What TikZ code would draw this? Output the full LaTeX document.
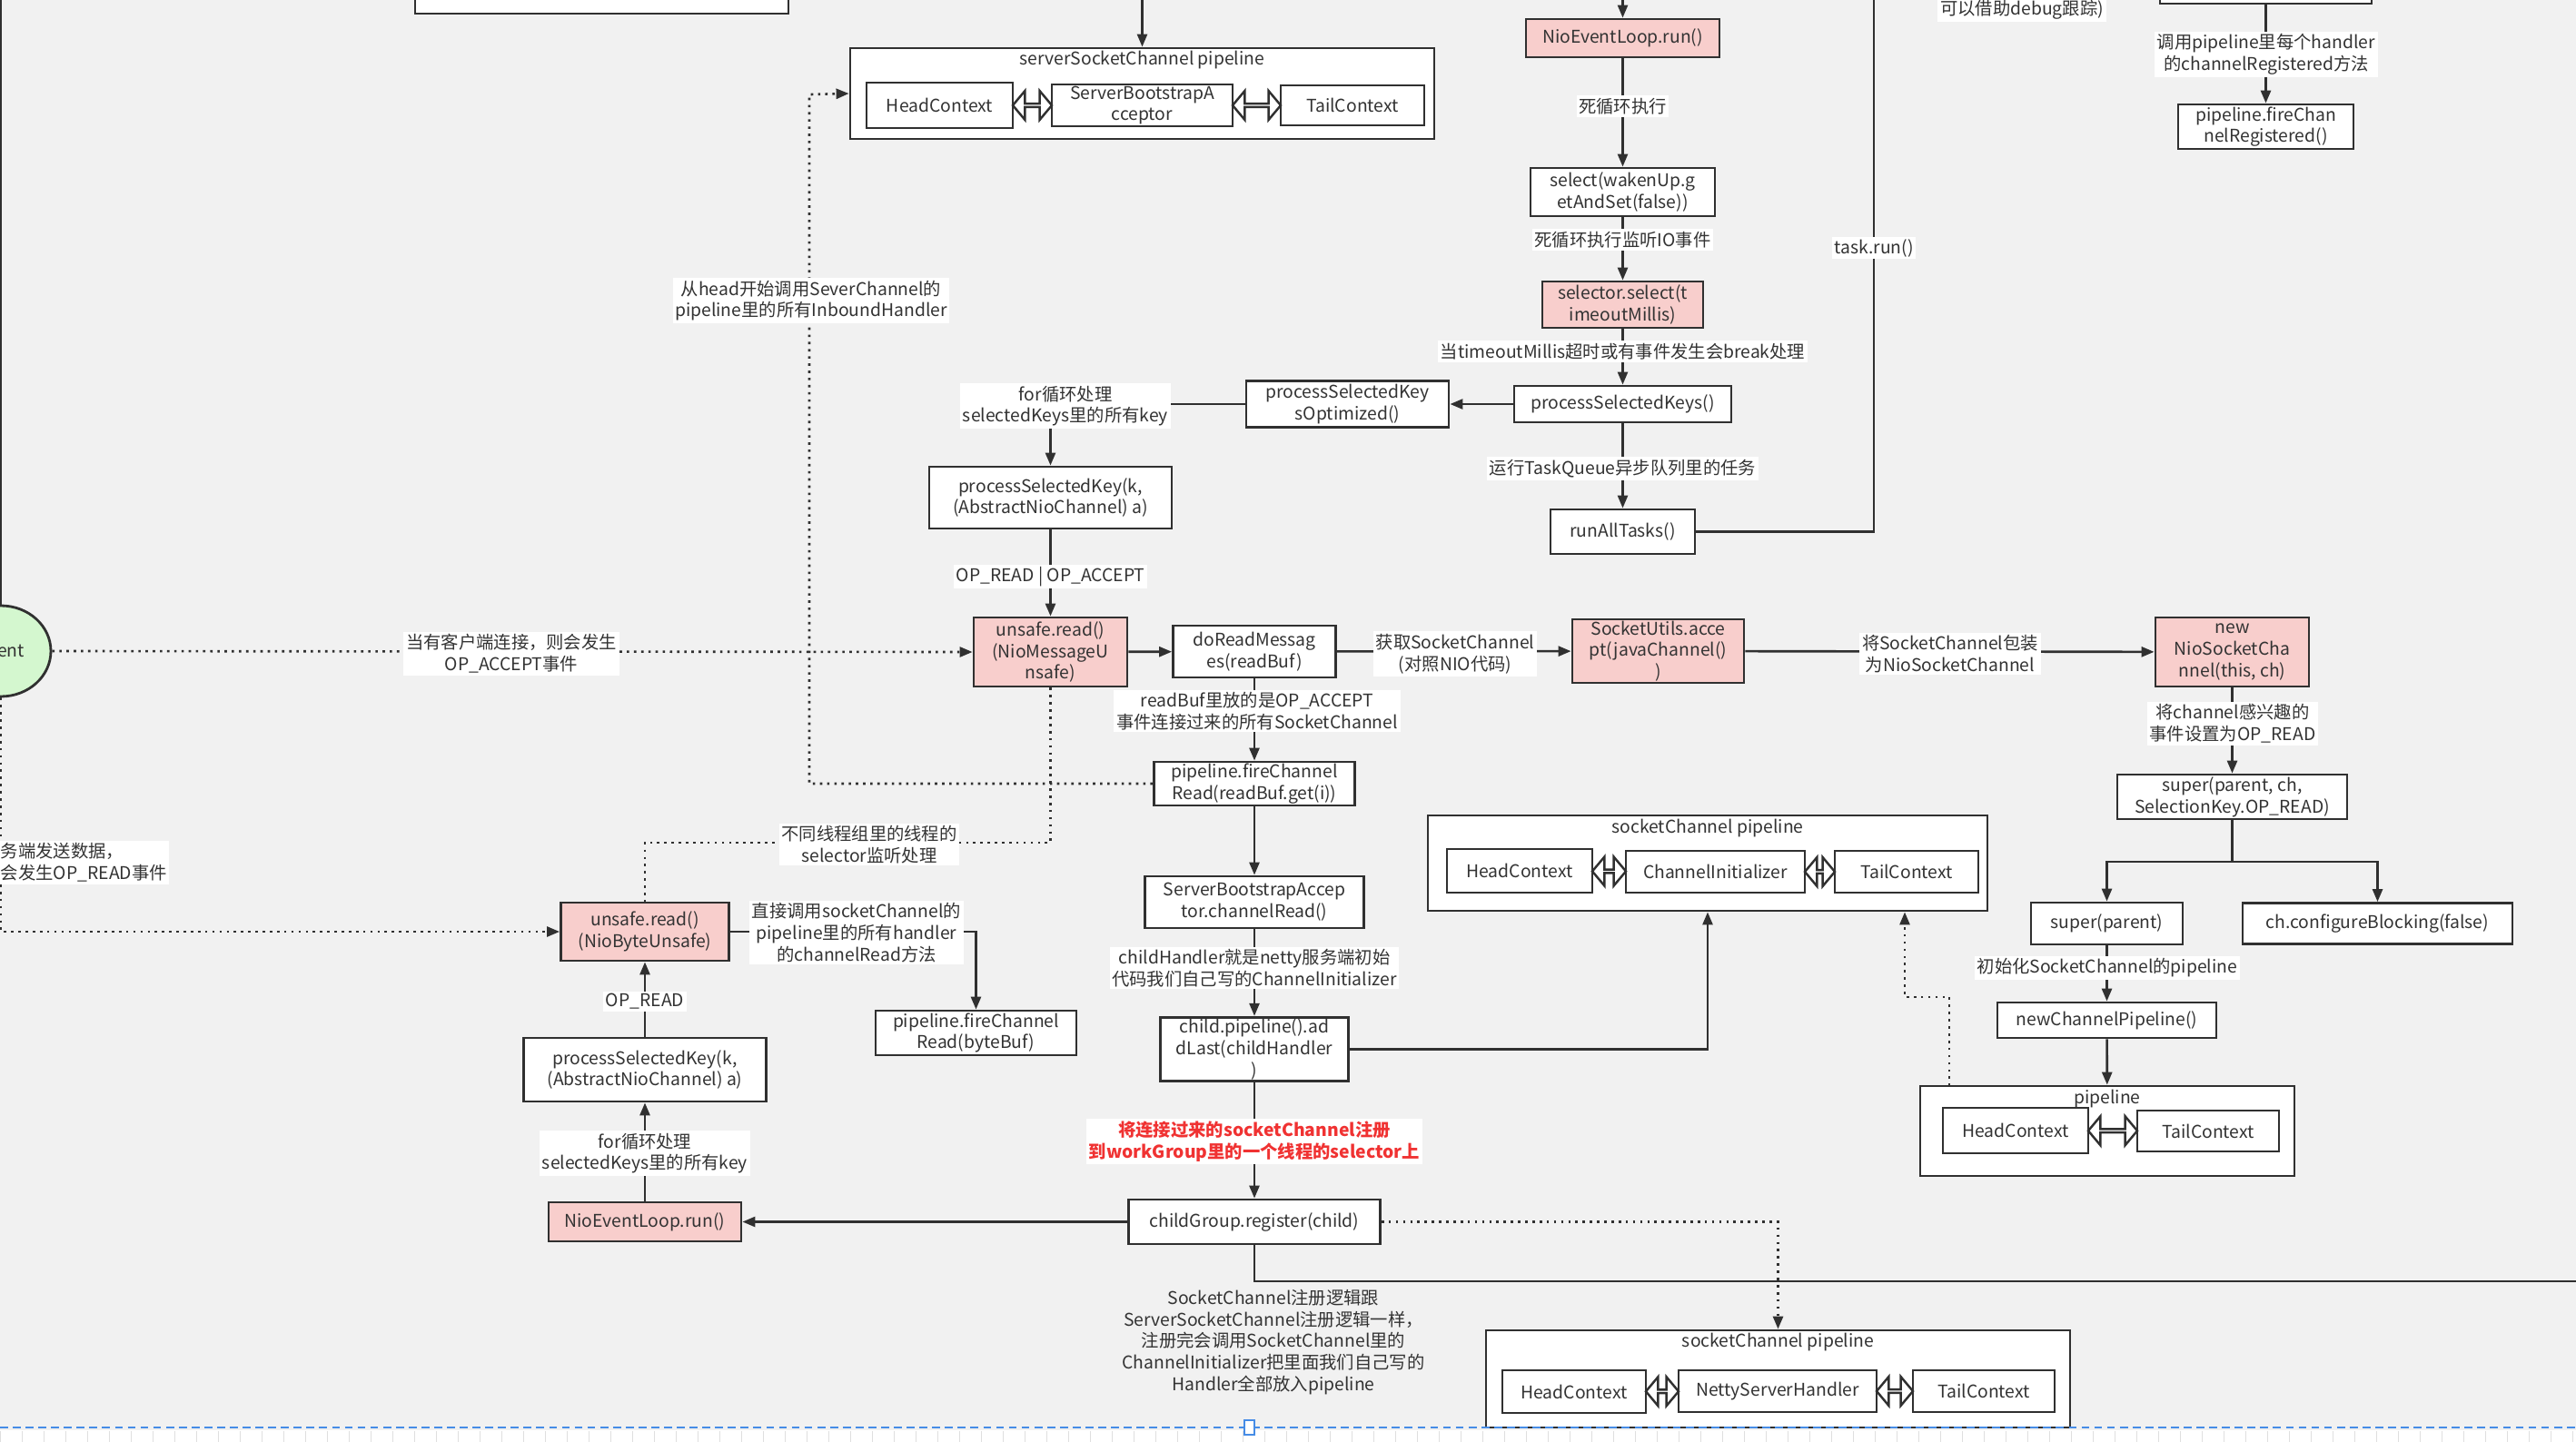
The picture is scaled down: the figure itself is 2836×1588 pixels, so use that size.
\documentclass[tikz,border=0pt]{standalone}
\usepackage{fontspec}
\setmainfont{Noto Sans CJK SC}
\usetikzlibrary{arrows.meta, positioning, shapes.geometric, shapes.arrows}

\definecolor{canvasgray}{RGB}{241,241,241}
\definecolor{edgedark}{RGB}{48,48,48}
\definecolor{txtgray}{RGB}{51,51,51}
\definecolor{callpink}{RGB}{248,206,204}
\definecolor{clientgreen}{RGB}{212,247,207}
\definecolor{notered}{RGB}{240,50,50}
\definecolor{pageblue}{RGB}{70,140,230}

\tikzset{
  every node/.style={font=\fontsize{11}{13.5}\selectfont, text=txtgray},
  box/.style={draw=edgedark, fill=white, line width=1.6pt, align=center, inner sep=1pt},
  hot/.style={box, fill=callpink},
  frame/.style={draw=edgedark, fill=white, line width=1.6pt, inner sep=0pt},
  lbl/.style={fill=white, inner sep=1.5pt, align=center},
  flow/.style={draw=edgedark, line width=1.5pt, -{Triangle[length=2.8mm,width=2.2mm]}},
  wire/.style={draw=edgedark, line width=1.5pt},
  dots/.style={draw=edgedark, line width=1.5pt, dash pattern=on 1.5pt off 3pt},
  dotflow/.style={dots, -{Triangle[length=2.8mm,width=2.2mm]}},
  dblarr/.style={double arrow, draw=edgedark, fill=white, line width=1.4pt, inner sep=0pt,
    minimum width=6.4mm, double arrow head extend=1.8mm, double arrow tip angle=100},
}

\begin{document}
\begin{tikzpicture}[x=0.2mm, y=-0.2mm]
  \useasboundingbox (0,0) rectangle (2836,1588);
  \fill[canvasgray] (0,0) rectangle (2836,1588);

  % clipped boxes at the top edge
  \node[box, minimum width=82.2mm, minimum height=11mm] (upl) at (662.5,-12.5) {};
  \node[box, minimum width=46.6mm, minimum height=9.6mm] (upr) at (2494.5,-20) {};

  % serverSocketChannel pipeline
  \node[frame, minimum width=128.6mm, minimum height=20mm] (sscp) at (1257.5,103) {};
  \node (sscpT) at (1257.5,66) {serverSocketChannel pipeline};
  \node[box, minimum width=32.2mm, minimum height=10mm] (hc1) at (1034.5,116) {HeadContext};
  \node[box, minimum width=39.8mm, minimum height=8.8mm] (sba) at (1257.5,116) {ServerBootstrapA\\cceptor};
  \node[box, minimum width=31.6mm, minimum height=8.8mm] (tc1) at (1489,116) {TailContext};
  \path (hc1.east) -- node[dblarr, minimum height=8.6mm] (da1) {} (sba.west);
  \path (sba.east) -- node[dblarr, minimum height=10.6mm] (da2) {} (tc1.west);

  % event loop column
  \node[hot, minimum width=42.6mm, minimum height=8.4mm] (nel1) at (1786.5,42) {NioEventLoop.run()};
  \node[box, minimum width=40.6mm, minimum height=10.6mm] (sel1) at (1786.5,211.5) {select(wakenUp.g\\etAndSet(false))};
  \node[hot, minimum width=35.4mm, minimum height=10.2mm] (sel2) at (1786.5,335.5) {selector.select(t\\imeoutMillis)};
  \node[box, minimum width=47.8mm, minimum height=8mm] (psks) at (1786.5,445) {processSelectedKeys()};
  \node[box, minimum width=44.6mm, minimum height=10.2mm] (psko) at (1483.5,445) {processSelectedKey\\sOptimized()};
  \node[box, minimum width=53.4mm, minimum height=13.6mm] (psk1) at (1156.5,548) {processSelectedKey(k,\\(AbstractNioChannel) a)};
  \node[box, minimum width=31.8mm, minimum height=9.8mm] (rat) at (1786.5,585.5) {runAllTasks()};
  \node[box, minimum width=38.6mm, minimum height=9.8mm] (fcr) at (2494.5,139.5) {pipeline.fireChan\\nelRegistered()};

  % client
  \node[ellipse, draw=edgedark, fill=clientgreen, line width=1.6pt, inner sep=0pt,
    minimum width=22mm, minimum height=20mm] (client) at (1,717) {};
  \node (clientT) at (12,717) {ent};

  % accept chain
  \node[hot, minimum width=33.8mm, minimum height=15.2mm] (nmu) at (1156.5,718) {unsafe.read()\\(NioMessageU\\nsafe)};
  \node[box, minimum width=35.8mm, minimum height=11.4mm] (drm) at (1381,717.5) {doReadMessag\\es(readBuf)};
  \node[hot, minimum width=37.8mm, minimum height=12mm] (sua) at (1825.5,717) {SocketUtils.acce\\pt(javaChannel()\\)};
  \node[hot, minimum width=33.8mm, minimum height=15.2mm] (nsc) at (2457.5,718) {new\\NioSocketCha\\nnel(this, ch)};
  \node[box, minimum width=44.2mm, minimum height=9.6mm] (fcr2) at (1381,863) {pipeline.fireChannel\\Read(readBuf.get(i))};
  \node[box, minimum width=48.2mm, minimum height=11.4mm] (sbacr) at (1381,993.5) {ServerBootstrapAccep\\tor.channelRead()};
  \node[box, minimum width=41.4mm, minimum height=12.6mm] (cpadd) at (1381,1155.5) {child.pipeline().ad\\dLast(childHandler\\)};
  \node[box, minimum width=55.4mm, minimum height=9.8mm] (cgr) at (1381,1345.5) {childGroup.register(child)};

  % read chain
  \node[hot, minimum width=37mm, minimum height=12.8mm] (nbu) at (710,1026) {unsafe.read()\\(NioByteUnsafe)};
  \node[box, minimum width=53.4mm, minimum height=14mm] (psk2) at (710,1178) {processSelectedKey(k,\\(AbstractNioChannel) a)};
  \node[hot, minimum width=42.4mm, minimum height=8.6mm] (nel2) at (710,1345.5) {NioEventLoop.run()};
  \node[box, minimum width=44.2mm, minimum height=9.8mm] (fcrb) at (1074.5,1137.5) {pipeline.fireChannel\\Read(byteBuf)};

  % socketChannel pipeline (middle)
  \node[frame, minimum width=123.2mm, minimum height=21mm] (scp1) at (1880,950.5) {};
  \node (scp1T) at (1880,912) {socketChannel pipeline};
  \node[box, minimum width=32mm, minimum height=9.6mm] (hc2) at (1673,959) {HeadContext};
  \node[box, minimum width=39.4mm, minimum height=9.2mm] (ci) at (1888.5,960) {ChannelInitializer};
  \node[box, minimum width=31.6mm, minimum height=9.2mm] (tc2) at (2099,960) {TailContext};
  \path (hc2.east) -- node[dblarr, minimum height=7.4mm] (da3) {} (ci.west);
  \path (ci.east) -- node[dblarr, minimum height=6.6mm] (da4) {} (tc2.west);

  % NioSocketChannel construction
  \node[box, minimum width=50.6mm, minimum height=9.8mm] (spc) at (2457.5,877.5) {super(parent, ch,\\SelectionKey.OP\_READ)};
  \node[box, minimum width=33.4mm, minimum height=9.2mm] (sp) at (2319.5,1017) {super(parent)};
  \node[box, minimum width=59.4mm, minimum height=9mm] (cb) at (2617.5,1017) {ch.configureBlocking(false)};
  \node[box, minimum width=48.2mm, minimum height=7.8mm] (ncp) at (2319.5,1123.5) {newChannelPipeline()};
  \node[frame, minimum width=82.4mm, minimum height=19.8mm] (pl) at (2320,1245.5) {};
  \node (plT) at (2320,1210) {pipeline};
  \node[box, minimum width=32mm, minimum height=10mm] (hc3) at (2219,1245) {HeadContext};
  \node[box, minimum width=31.2mm, minimum height=9mm] (tc3) at (2431,1245.5) {TailContext};
  \path (hc3.east) -- node[dblarr, minimum height=10.8mm] (da5) {} (tc3.west);

  % socketChannel pipeline (bottom)
  \node[frame, minimum width=128.6mm, minimum height=21.4mm] (scp2) at (1957.5,1518.5) {};
  \node (scp2T) at (1957.5,1478) {socketChannel pipeline};
  \node[box, minimum width=31.6mm, minimum height=9.4mm] (hc4) at (1733,1532.5) {HeadContext};
  \node[box, minimum width=43.6mm, minimum height=9.2mm] (nsh) at (1957,1532) {NettyServerHandler};
  \node[box, minimum width=31.2mm, minimum height=9.2mm] (tc4) at (2184,1532) {TailContext};
  \path (hc4.east) -- node[dblarr, minimum height=7.2mm] (da6) {} (nsh.west);
  \path (nsh.east) -- node[dblarr, minimum height=8mm] (da7) {} (tc4.west);

  % free ends
  \coordinate (inA) at (1257.5,-10);
  \coordinate (inB) at (1786.5,-10);
  \coordinate (inC) at (1,-10);
  \coordinate (loopTop) at (2063,-10);
  \coordinate (backUp) at (891,104);
  \coordinate (xThread) at (1156.5,928);
  \coordinate (offR) at (2850,1411);
  \coordinate (fork) at (2457.5,949);
  \coordinate (plTap) at (2146,1196);
  \coordinate (plBend) at (2097,1098);

  % connectors
  \draw[flow] (inA) -- (sscp.north);
  \draw[flow] (inB) -- (nel1);
  \draw[flow] (nel1) -- (sel1);
  \draw[flow] (sel1) -- (sel2);
  \draw[flow] (sel2) -- (psks);
  \draw[flow] (psks) -- (rat);
  \draw[flow] (psks) -- (psko);
  \draw[flow] (psko.west) -| (psk1.north);
  \draw[flow] (psk1) -- (nmu);
  \draw[wire] (rat.east) -| (loopTop);
  \draw[flow] (upr) -- (fcr);
  \draw[wire] (inC) -- (client.north);
  \draw[dotflow] (client.east) -- (nmu.west);
  \draw[dotflow] (client.south) |- (nbu.west);
  \draw[flow] (nmu) -- (drm);
  \draw[flow] (drm) -- (sua);
  \draw[flow] (sua) -- (nsc);
  \draw[flow] (drm) -- (fcr2);
  \draw[dotflow] (fcr2.west) -| (backUp) -- (sscp.west);
  \draw[dots] (nmu.south) -- (xThread) -| (nbu.north);
  \draw[flow] (fcr2) -- (sbacr);
  \draw[flow] (sbacr) -- (cpadd);
  \draw[flow] (cpadd.east) -| (scp1.south);
  \draw[flow] (cpadd) -- (cgr);
  \draw[flow] (cgr) -- (nel2);
  \draw[dotflow] (cgr.east) -| (scp2.north);
  \draw[wire] (cgr.south) |- (offR);
  \draw[flow] (nel2) -- (psk2);
  \draw[flow] (psk2) -- (nbu);
  \draw[flow] (nbu.east) -| (fcrb.north);
  \draw[flow] (nsc) -- (spc);
  \draw[wire] (spc.south) -- (fork);
  \draw[flow] (fork) -| (sp.north);
  \draw[flow] (fork) -| (cb.north);
  \draw[flow] (sp) -- (ncp);
  \draw[flow] (ncp) -- (pl);
  \draw[dotflow] (plTap) |- (plBend) -- (plBend |- scp1.south);

  % connector labels
  \node[lbl] (l1) at (1786.5,117) {死循环执行};
  \node[lbl] (l2) at (1786.5,264) {死循环执行监听IO事件};
  \node[lbl] (l3) at (1786.5,387) {当timeoutMillis超时或有事件发生会break处理};
  \node[lbl] (l4) at (1786.5,516) {运行TaskQueue异步队列里的任务};
  \node[lbl] (l5) at (2063,273) {task.run()};
  \node[lbl] (l6) at (1173,447) {for循环处理\\selectedKeys里的所有key};
  \node[lbl] (l7) at (1156.5,635) {OP\_READ | OP\_ACCEPT};
  \node[lbl] (l8) at (563,720) {当有客户端连接，则会发生\\OP\_ACCEPT事件};
  \node[lbl] (l9) at (893,331) {从head开始调用SeverChannel的\\pipeline里的所有InboundHandler};
  \node[lbl] (l10) at (1602,720) {获取SocketChannel\\(对照NIO代码)};
  \node[lbl] (l11) at (2147,720) {将SocketChannel包装\\为NioSocketChannel};
  \node[lbl] (l12) at (1384,783) {readBuf里放的是OP\_ACCEPT\\事件连接过来的所有SocketChannel};
  \node[lbl] (l13) at (2458,797) {将channel感兴趣的\\事件设置为OP\_READ};
  \node[lbl] (l14) at (957,930) {不同线程组里的线程的\\selector监听处理};
  \node[lbl] (l15) at (943,1027) {直接调用socketChannel的\\pipeline里的所有handler\\的channelRead方法};
  \node[lbl] (l16) at (1381,1066) {childHandler就是netty服务端初始\\代码我们自己写的ChannelInitializer};
  \node[lbl] (l17) at (2320,1066) {初始化SocketChannel的pipeline};
  \node[lbl] (l18) at (710,1103) {OP\_READ};
  \node[lbl] (l19) at (710,1270) {for循环处理\\selectedKeys里的所有key};
  \node[lbl, text=notered, font=\fontsize{11}{13.5}\selectfont\bfseries] (l20) at (1381,1257)
    {将连接过来的socketChannel注册\\到workGroup里的一个线程的selector上};
  \node[lbl] (l21) at (2495,60) {调用pipeline里每个handler\\的channelRegistered方法};
  \node[lbl] (l22) at (2226,11) {可以借助debug跟踪)};
  \node[lbl, align=left, anchor=west] (l23) at (-2,950) {务端发送数据，\\会发生OP\_READ事件};
  \node[align=center] (note) at (1402,1478) {SocketChannel注册逻辑跟\\ServerSocketChannel注册逻辑一样，\\注册完会调用SocketChannel里的\\ChannelInitializer把里面我们自己写的\\Handler全部放入pipeline};

  % page edge of the canvas
  \fill[white] (0,1575) rectangle (2836,1588);
  \foreach \t in {0,24,...,2836}
    \draw[gray!25, line width=0.4pt] (\t,1576) -- (\t,1588);
  \draw[pageblue, line width=1.2pt, dash pattern=on 5pt off 3pt] (0,1572) -- (2836,1572);
  \draw[pageblue, line width=1pt, fill=white] (1370,1564) rectangle (1381,1580);
\end{tikzpicture}
\end{document}
